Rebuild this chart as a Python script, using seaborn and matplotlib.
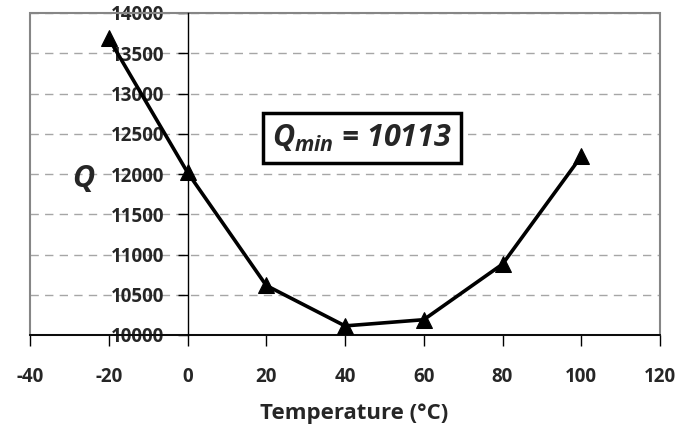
import matplotlib
matplotlib.use("Agg")
import pandas as pd
import seaborn as sns
import matplotlib.pyplot as plt
from matplotlib.patches import Rectangle

# values
temperature = [-20, 0, 20, 40, 60, 80, 100]
q_values = [13685, 12020, 10615, 10113, 10190, 10880, 12220]
x_ticks = [-40, -20, 0, 20, 40, 60, 80, 100, 120]
y_ticks = [10000, 10500, 11000, 11500, 12000, 12500, 13000, 13500, 14000]
q_min = 10113

sns.set_style("white")
plt.rcParams['font.family'] = ['Open Sans', 'DejaVu Sans']
plt.rcParams['font.weight'] = 'bold'
plt.rcParams['axes.unicode_minus'] = False
plt.rcParams['mathtext.fontset'] = 'custom'
plt.rcParams['mathtext.it'] = 'Open Sans:italic:bold'
plt.rcParams['mathtext.rm'] = 'Open Sans:bold'

W, H = 696, 432
fig = plt.figure(figsize=(W / 100, H / 100), dpi=100)
ax = fig.add_axes([30 / W, 1 - 335 / H, 630 / W, 322 / H])

df = pd.DataFrame({'Temperature': temperature, 'Q': q_values})
sns.lineplot(data=df, x='Temperature', y='Q', ax=ax, color='black',
             linewidth=2.6, marker='^', markersize=11.5,
             markeredgecolor='black', markerfacecolor='black', zorder=5)

ax.set_xlim(x_ticks[0], x_ticks[-1])
ax.set_ylim(y_ticks[0], y_ticks[-1])
ax.set_xticks(x_ticks)
ax.set_yticks(y_ticks)
ax.set_xlabel('')
ax.set_ylabel('')

ax.grid(axis='y', color='#a6a6a6', linestyle=(0, (6, 4.5)), linewidth=1)
ax.grid(axis='x', visible=False)
ax.set_axisbelow(True)

# Excel-like plot area: gray frame, y axis crossing at x = 0
for side in ['top', 'right']:
    ax.spines[side].set_visible(False)
ax.add_patch(Rectangle((0, 0), 1, 1, transform=ax.transAxes, fill=False,
                       edgecolor='#868686', linewidth=1.5, zorder=1, clip_on=False))
ax.spines['left'].set_position(('data', 0))
ax.spines['left'].set_color('black')
ax.spines['left'].set_linewidth(1)
ax.spines['bottom'].set_color('black')
ax.spines['bottom'].set_linewidth(1.3)
ax.spines['bottom'].set_zorder(2)

ax.tick_params(axis='y', direction='out', length=7, width=1, pad=9.5,
               labelsize=13.5, color='black', left=True)
ax.tick_params(axis='x', direction='out', length=8, width=1, pad=15,
               labelsize=13.5, color='black', bottom=True)
for lbl in ax.get_xticklabels() + ax.get_yticklabels():
    lbl.set_fontweight('bold')

ax.text(44.3, 12447, r"$Q_{min}$ = " + str(q_min), fontsize=22,
        fontweight='bold', style='italic', ha='center', va='center', zorder=6,
        bbox=dict(boxstyle='square,pad=0.3', facecolor='white',
                  edgecolor='black', linewidth=2.5))

fig.text(83 / W, 1 - 179 / H, "Q", fontsize=22, fontweight='bold',
         style='italic', ha='center', va='center')
fig.text(354 / W, 1 - 413 / H, "Temperature (°C)", fontsize=16,
         fontweight='bold', ha='center', va='center')

fig.savefig('out.png', dpi=100)
